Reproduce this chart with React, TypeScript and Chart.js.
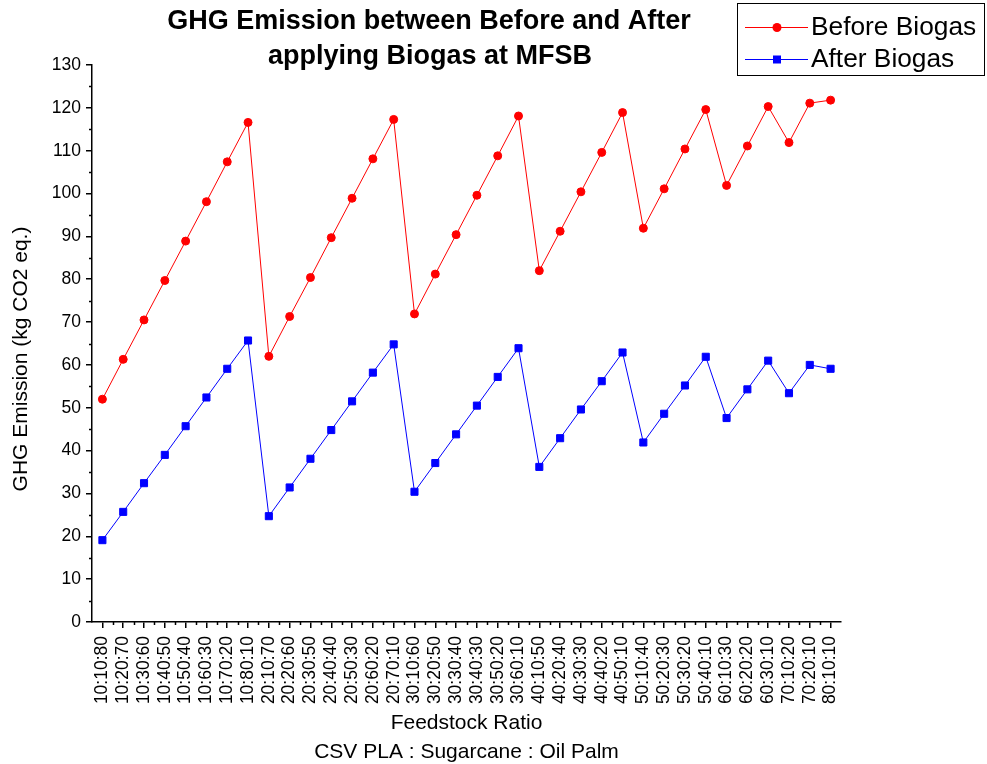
import React, { useEffect, useRef } from "react";
import { Chart, registerables } from "chart.js";

Chart.register(...registerables);

const categories = [
  "10:10:80", "10:20:70", "10:30:60", "10:40:50", "10:50:40", "10:60:30", "10:70:20", "10:80:10",
  "20:10:70", "20:20:60", "20:30:50", "20:40:40", "20:50:30", "20:60:20", "20:70:10",
  "30:10:60", "30:20:50", "30:30:40", "30:40:30", "30:50:20", "30:60:10",
  "40:10:50", "40:20:40", "40:30:30", "40:40:20", "40:50:10",
  "50:10:40", "50:20:30", "50:30:20", "50:40:10",
  "60:10:30", "60:20:20", "60:30:10",
  "70:10:20", "70:20:10",
  "80:10:10",
];

const beforeBiogas = [
  52.0, 61.3, 70.5, 79.7, 88.9, 98.1, 107.4, 116.6,
  62.0, 71.3, 80.4, 89.7, 98.9, 108.1, 117.3,
  71.9, 81.2, 90.4, 99.6, 108.8, 118.1,
  82.0, 91.2, 100.4, 109.6, 118.9,
  91.9, 101.1, 110.4, 119.6,
  101.9, 111.1, 120.3,
  111.9, 121.1,
  121.8,
];

const afterBiogas = [
  19.1, 25.7, 32.4, 39.0, 45.7, 52.4, 59.1, 65.7,
  24.7, 31.4, 38.1, 44.8, 51.5, 58.2, 64.8,
  30.4, 37.1, 43.8, 50.5, 57.2, 63.9,
  36.2, 42.9, 49.6, 56.2, 62.9,
  41.9, 48.6, 55.2, 61.9,
  47.6, 54.3, 61.0,
  53.4, 60.0,
  59.1,
];

const titleLines = ["GHG Emission between Before and After", "applying Biogas at MFSB"];
const legendLabels = ["Before Biogas", "After Biogas"];
const yAxisTitle = "GHG Emission (kg CO2 eq.)";
const xAxisTitle = ["Feedstock Ratio", "CSV PLA : Sugarcane : Oil Palm"];
const yMin = 0;
const yMax = 130;
const yStep = 10;

const FONT = "'Liberation Sans', Arial, Helvetica, sans-serif";
const RED = "#ff0000";
const BLUE = "#0000ff";

const decorPlugin = {
  id: "decor",
  afterDraw(chart: any) {
    const ctx = chart.ctx;
    const xs = chart.scales.x;
    const ys = chart.scales.y;
    ctx.save();
    // minor ticks
    ctx.strokeStyle = "#000";
    ctx.lineWidth = 1.5;
    ctx.beginPath();
    for (let v = yMin + yStep / 2; v < yMax; v += yStep) {
      const py = Math.round(ys.getPixelForValue(v)) + 0.5;
      ctx.moveTo(xs.left - 3, py);
      ctx.lineTo(xs.left, py);
    }
    for (let i = 0; i < categories.length - 1; i++) {
      const px = Math.round(xs.getPixelForValue(i + 0.5)) + 0.5;
      ctx.moveTo(px, ys.bottom);
      ctx.lineTo(px, ys.bottom + 3);
    }
    ctx.stroke();

    // y axis title
    ctx.save();
    ctx.translate(21, 359);
    ctx.rotate(-Math.PI / 2);
    ctx.fillStyle = "#000";
    ctx.font = `21px ${FONT}`;
    ctx.textAlign = "center";
    ctx.textBaseline = "middle";
    ctx.fillText(yAxisTitle, 0, 0);
    ctx.restore();

    // title
    ctx.fillStyle = "#000";
    ctx.font = `bold 27px ${FONT}`;
    ctx.textAlign = "center";
    ctx.textBaseline = "middle";
    ctx.fillText(titleLines[0], 429, 22);
    ctx.fillText(titleLines[1], 430, 57);

    // legend
    ctx.lineWidth = 1;
    ctx.strokeStyle = "#000";
    ctx.strokeRect(737.5, 3.5, 247, 72);
    const rows = [
      { y: 27, color: RED, style: "circle" },
      { y: 59, color: BLUE, style: "rect" },
    ];
    rows.forEach((r, i) => {
      ctx.strokeStyle = r.color;
      ctx.lineWidth = 1;
      ctx.beginPath();
      ctx.moveTo(745, r.y + 0.5);
      ctx.lineTo(808, r.y + 0.5);
      ctx.stroke();
      ctx.fillStyle = r.color;
      if (r.style === "circle") {
        ctx.beginPath();
        ctx.arc(777, r.y + 0.5, 4.5, 0, Math.PI * 2);
        ctx.fill();
      } else {
        ctx.fillRect(773, r.y - 3.5, 8, 8);
      }
      ctx.fillStyle = "#000";
      ctx.font = `26.3px ${FONT}`;
      ctx.textAlign = "left";
      ctx.textBaseline = "middle";
      ctx.fillText(legendLabels[i], 811, r.y + 1);
    });
    ctx.restore();
  },
};

export default function App() {
  const ref = useRef<HTMLCanvasElement | null>(null);
  useEffect(() => {
    if (!ref.current) return;
    const chart = new Chart(ref.current, {
      type: "line",
      data: {
        labels: categories,
        datasets: [
          {
            label: legendLabels[0],
            data: beforeBiogas,
            borderColor: RED,
            backgroundColor: RED,
            borderWidth: 1,
            pointStyle: "circle",
            pointRadius: 4,
            pointBorderWidth: 1,
            pointBackgroundColor: RED,
            pointBorderColor: RED,
            tension: 0,
          },
          {
            label: legendLabels[1],
            data: afterBiogas,
            borderColor: BLUE,
            backgroundColor: BLUE,
            borderWidth: 1,
            pointStyle: "rect",
            pointRadius: 5,
            pointBorderWidth: 1,
            pointBackgroundColor: BLUE,
            pointBorderColor: BLUE,
            tension: 0,
          },
        ],
      },
      options: {
        responsive: false,
        animation: false,
        layout: { padding: { left: 0, right: 146, top: 65, bottom: 0 } },
        plugins: {
          legend: { display: false },
          title: { display: false },
          tooltip: { enabled: false },
        },
        scales: {
          x: {
            type: "category",
            offset: true,
            afterFit(scale: any) {
              scale.height = 142;
            },
            border: { display: true, color: "#000", width: 1.5 },
            grid: {
              display: true,
              drawOnChartArea: false,
              drawTicks: true,
              tickLength: 6,
              color: "#000",
              lineWidth: 1.5,
              offset: false,
            },
            ticks: {
              color: "#000",
              font: { family: FONT, size: 17.5 },
              minRotation: 90,
              maxRotation: 90,
              autoSkip: false,
              padding: 8,
            },
            title: {
              display: true,
              text: xAxisTitle,
              color: "#000",
              font: { family: FONT, size: 21, lineHeight: 1.38 },
              padding: { top: 0, bottom: -3 },
            },
          },
          y: {
            min: yMin,
            max: yMax,
            afterFit(scale: any) {
              scale.width = 92;
            },
            border: { display: true, color: "#000", width: 1.5 },
            grid: {
              display: true,
              drawOnChartArea: false,
              drawTicks: true,
              tickLength: 6,
              color: "#000",
              lineWidth: 1.5,
            },
            ticks: {
              stepSize: yStep,
              color: "#000",
              font: { family: FONT, size: 17.5 },
              padding: 5,
            },
            title: { display: false },
          },
        },
      },
      plugins: [decorPlugin],
    } as any);
    return () => chart.destroy();
  }, []);
  return (
    <div style={{ position: "absolute", left: 0, top: 0, width: 987, height: 764, background: "#fff" }}>
      <canvas ref={ref} width={987} height={764} style={{ display: "block" }} />
    </div>
  );
}
